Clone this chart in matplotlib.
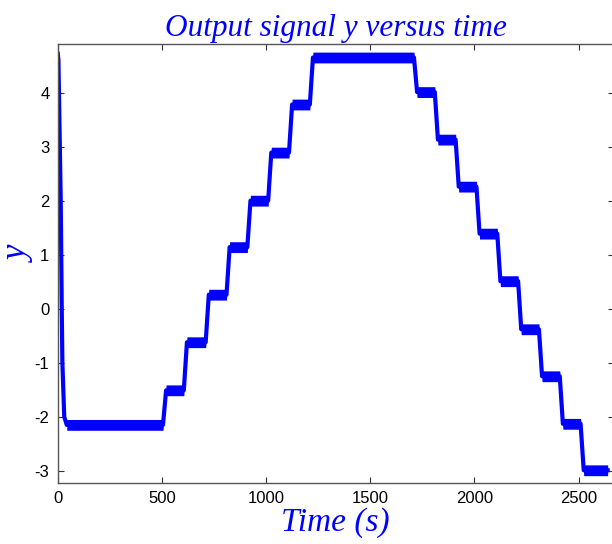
import numpy as np
import matplotlib
matplotlib.use("Agg")
import matplotlib.pyplot as plt

plt.rcParams["axes.unicode_minus"] = False

# ---- data ----
initial_t = [0, 3, 14, 19, 22, 31, 43]
initial_y = [4.72, 4.6, 2.0, 0.0, -1.0, -2.0, -2.15]

switch_times = [505, 605, 710, 810, 910, 1010, 1110, 1210,
                1710, 1810, 1910, 2010, 2110, 2210, 2310, 2410, 2510]
levels = [-2.15, -1.51, -0.62, 0.26, 1.14, 2.00, 2.89, 3.78, 4.65,
          4.01, 3.13, 2.26, 1.39, 0.51, -0.38, -1.25, -2.13, -2.99]
end_time = 2640
ramp_duration = 15
noise_half = 0.1

xticks = [0, 500, 1000, 1500, 2000, 2500]
yticks = [-3, -2, -1, 0, 1, 2, 3, 4]

# ---- build staircase vertices from the arrays ----
t = list(initial_t)
y = list(initial_y)
for i, ts in enumerate(switch_times):
    t += [ts, ts + ramp_duration]
    y += [levels[i], levels[i + 1]]
t.append(end_time)
y.append(levels[-1])
t = np.array(t, float)
y = np.array(y, float)

fig = plt.figure(figsize=(6.12, 5.44), dpi=100)
ax = fig.add_axes([57.8 / 612, (544 - 482.7) / 544,
                   (613.5 - 57.8) / 612, (482.7 - 44) / 544])

blue = (0, 0, 1)
# noise band on flat segments
flat_t = t[len(initial_t) - 1:]
flat_y = y[len(initial_y) - 1:]
ax.fill_between(flat_t, flat_y - noise_half, flat_y + noise_half,
                color=blue, lw=0)
ax.plot(t, y, color=blue, lw=3.0, solid_joinstyle="round")

ax.set_xlim(0, 2668)
ax.set_ylim(-3.22, 4.9)
ax.set_xticks(xticks)
ax.set_yticks(yticks)
ax.tick_params(direction="in", length=4, width=0.8, top=True, right=True,
               labelsize=12, colors="#333333", labelcolor="black", pad=6)
for s in ax.spines.values():
    s.set_color("#555555")
    s.set_linewidth(1.0)
for lab in ax.get_xticklabels() + ax.get_yticklabels():
    lab.set_family("Liberation Sans")

serif = {"family": "Liberation Serif", "style": "italic", "color": blue}
ax.set_title("Output signal y versus time", fontsize=22.5, pad=6, **serif)
ax.set_xlabel("Time (s)", fontsize=24, labelpad=1, **serif)
ax.set_ylabel("y", fontsize=25, **serif)
ax.yaxis.set_label_coords(-0.039, 0.52)

fig.savefig("out.png", dpi=100)
